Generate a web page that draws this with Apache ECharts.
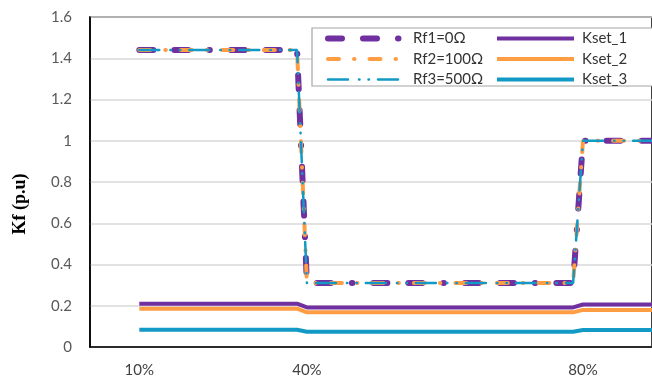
<!DOCTYPE html>
<html>
<head>
<meta charset="utf-8">
<script src="https://cdn.jsdelivr.net/npm/echarts@6/dist/echarts.min.js"></script>
<style>
  html, body { margin: 0; padding: 0; background: #fff; }
  #chart { width: 652px; height: 382px; }
</style>
</head>
<body>
<div id="chart"></div>
<script>
// Fault samples along the line; tick labels name the fault location of selected samples.
const xTickLabels = ['10%', '40%', '80%'];
const xTickSamples = [0, 17, 45];

// Kf per fault sample (breakpoints of each trace: [sample, Kf])
const rf1 = [[0, 1.44], [16, 1.44], [17, 0.31], [44, 0.31], [45, 1.0], [52, 1.0]];
const rf2 = [[0, 1.44], [16, 1.44], [17, 0.31], [44, 0.31], [45, 1.0], [52, 1.0]];
const rf3 = [[0, 1.44], [16, 1.44], [17, 0.31], [44, 0.31], [45, 1.0], [52, 1.0]];

// Setting thresholds
const kset1 = [[0, 0.21], [16, 0.21], [17, 0.192], [44, 0.192], [45, 0.206], [52, 0.206]];
const kset2 = [[0, 0.186], [16, 0.186], [17, 0.168], [44, 0.168], [45, 0.18], [52, 0.18]];
const kset3 = [[0, 0.084], [16, 0.084], [17, 0.074], [44, 0.074], [45, 0.082], [52, 0.082]];

const rfNames = ['Rf1=0Ω', 'Rf2=100Ω', 'Rf3=500Ω'];
const ksetNames = ['Kset_1', 'Kset_2', 'Kset_3'];

const PURPLE = '#7030a0';
const ORANGE = '#ff9d45';
const BLUE = '#1399c6';
const FONT = 'Lato, "Noto Sans", sans-serif';

function trace(name, data, color, width, dash, cap, z) {
  return {
    name: name,
    type: 'line',
    data: data,
    symbol: 'none',
    z: z,
    animation: false,
    lineStyle: { color: color, width: width, type: dash, cap: cap || 'butt' },
    itemStyle: { color: color }
  };
}

// Legend shows only the line sample (full series width), no marker
function legendBlock(names, left, width, textPad) {
  return {
    data: names,
    orient: 'vertical',
    left: left, top: 31,
    itemWidth: width, itemHeight: 14, itemGap: 5.5,
    padding: 0,
    itemStyle: { opacity: 0 },
    lineStyle: { width: 'inherit', type: 'inherit', cap: 'inherit' },
    textStyle: { fontSize: 15, fontFamily: FONT, color: '#333', padding: [0, 0, 0, textPad] }
  };
}

const chart = echarts.init(document.getElementById('chart'), null, { renderer: 'canvas' });
chart.setOption({
  animation: false,
  backgroundColor: '#ffffff',
  grid: {
    left: 90, top: 17, bottom: 35, right: -8,
    show: true, borderColor: '#000', borderWidth: 1.5, backgroundColor: 'transparent'
  },
  xAxis: {
    type: 'value',
    min: -5, max: 52,
    axisLine: { show: true, onZero: false, lineStyle: { color: '#000', width: 1.5 } },
    axisTick: { show: false },
    splitLine: { show: false },
    axisLabel: {
      customValues: xTickSamples,
      formatter: function (v) {
        const i = xTickSamples.indexOf(v);
        return i >= 0 ? xTickLabels[i] : '';
      },
      margin: 16,
      fontSize: 15,
      fontFamily: FONT,
      color: '#404040'
    }
  },
  yAxis: {
    type: 'value',
    min: 0, max: 1.6, interval: 0.2,
    axisLine: { show: true, onZero: false, lineStyle: { color: '#000', width: 1.5 } },
    axisTick: { show: false },
    splitLine: { show: true, lineStyle: { color: '#d9d9d9', width: 1.5 } },
    axisLabel: {
      margin: 18,
      fontSize: 15,
      fontFamily: FONT,
      color: '#595959'
    }
  },
  legend: [
    legendBlock(rfNames, 325, 75, 5),
    legendBlock(ksetNames, 495, 77, 3)
  ],
  graphic: [
    {
      type: 'rect',
      z: 3,
      shape: { x: 312, y: 28, width: 350, height: 58 },
      style: { fill: '#ffffff', stroke: '#a6a6a6', lineWidth: 1.2 }
    },
    {
      type: 'text',
      x: 20, y: 204,
      rotation: Math.PI / 2,
      style: {
        text: 'Kf (p.u)',
        font: 'bold 18px "Liberation Serif", "DejaVu Serif", serif',
        fill: '#000',
        align: 'center',
        verticalAlign: 'middle'
      }
    }
  ],
  series: [
    trace(rfNames[0], rf1, PURPLE, 6, [14, 21, 14, 21, 0.5, 21], 'round', 2),
    trace(rfNames[1], rf2, ORANGE, 4, [11, 15, 0.5, 15], 'round', 3),
    trace(rfNames[2], rf3, BLUE, 2.5, [20, 11, 0.5, 9, 0.5, 9], 'round', 4),
    trace(ksetNames[0], kset1, PURPLE, 4, 'solid', 'butt', 2),
    trace(ksetNames[1], kset2, ORANGE, 4, 'solid', 'butt', 2),
    trace(ksetNames[2], kset3, BLUE, 4, 'solid', 'butt', 2)
  ]
});
</script>
</body>
</html>
